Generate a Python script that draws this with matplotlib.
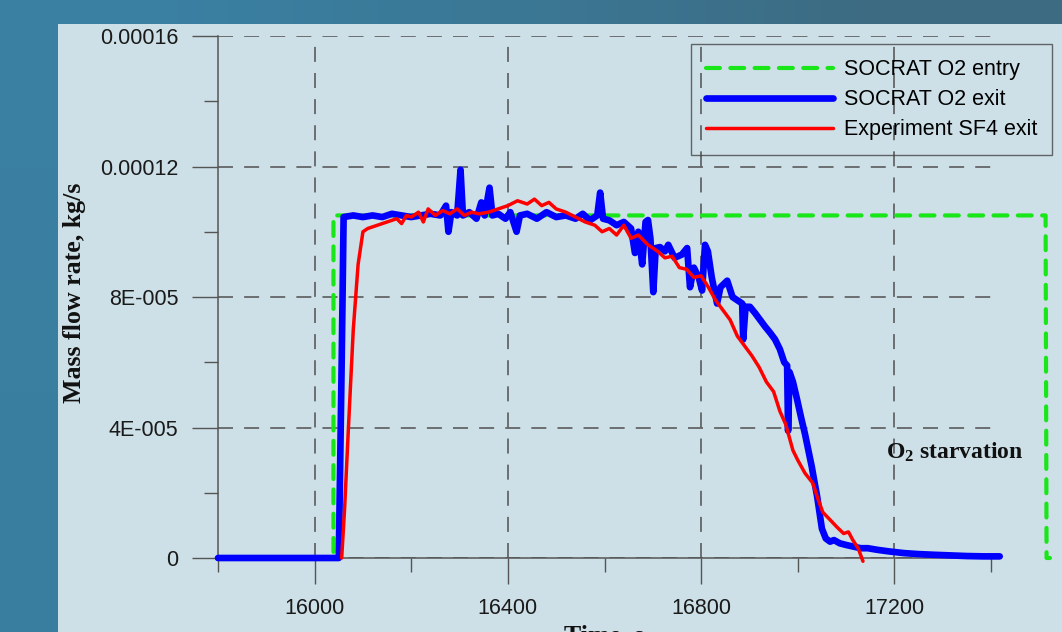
import numpy as np
import matplotlib as mpl
mpl.use("Agg")
import matplotlib.pyplot as plt
from matplotlib.ticker import MultipleLocator, FixedLocator, FixedFormatter
from matplotlib.patches import Rectangle

# values (mass flow in 1e-5 kg/s)
entry_t = [15800, 16039, 16039, 17513, 17515, 17522]
entry_q = [0.0, 0.0, 10.5, 10.5, 0.0, 0.0]

exit_t = [15800, 16050, 16056, 16060, 16080, 16100, 16120, 16140, 16160, 16180,
          16200, 16220, 16240, 16260, 16272, 16277, 16283, 16295, 16302, 16307,
          16320, 16335, 16345, 16352, 16362, 16368, 16380, 16395, 16405, 16418,
          16425, 16440, 16460, 16480, 16500, 16520, 16540, 16555, 16570, 16585,
          16591, 16597, 16610, 16625, 16640, 16655, 16663, 16670, 16678, 16685,
          16690, 16695, 16701, 16706, 16715, 16725, 16732, 16745, 16760, 16771,
          16777, 16785, 16795, 16802, 16808, 16814, 16822, 16833, 16840, 16854,
          16865, 16875, 16885, 16887, 16892, 16901, 16912, 16922, 16932, 16943,
          16953, 16963, 16972, 16978, 16980, 16983, 16990, 16998, 17007, 17015,
          17022, 17029, 17035, 17040, 17045, 17050, 17058, 17067, 17075, 17087,
          17100, 17115, 17130, 17145, 17165, 17190, 17220, 17250, 17280, 17315,
          17350, 17385, 17418]
exit_q = [0.0, 0.0, 6.0, 10.45, 10.5, 10.45, 10.5, 10.45, 10.55, 10.5,
          10.45, 10.5, 10.55, 10.5, 10.8, 10.0, 10.6, 10.5, 11.9, 10.5,
          10.6, 10.4, 10.9, 10.5, 11.35, 10.5, 10.55, 10.4, 10.6, 10.0,
          10.5, 10.55, 10.4, 10.6, 10.45, 10.5, 10.4, 10.55, 10.35, 10.5,
          11.2, 10.4, 10.35, 10.2, 10.3, 10.1, 9.35, 10.0, 9.0, 10.3,
          10.36, 9.8, 8.15, 9.5, 9.53, 9.4, 9.6, 9.2, 9.3, 9.5,
          8.3, 8.9, 8.6, 8.2, 9.6, 9.4, 8.6, 7.8, 8.3, 8.5,
          8.0, 7.9, 7.8, 6.7, 7.7, 7.7, 7.5, 7.3, 7.1, 6.9,
          6.7, 6.4, 6.0, 5.9, 3.9, 5.7, 5.4, 4.9, 4.3, 3.8,
          3.3, 2.8, 2.3, 1.9, 1.4, 0.9, 0.6, 0.5, 0.55, 0.45,
          0.4, 0.35, 0.3, 0.3, 0.25, 0.2, 0.15, 0.12, 0.1, 0.08,
          0.06, 0.05, 0.05]

exp_t = [16056, 16062, 16070, 16080, 16090, 16100, 16110, 16130, 16150, 16170,
         16180, 16190, 16200, 16215, 16225, 16235, 16250, 16265, 16280, 16295,
         16310, 16325, 16340, 16360, 16380, 16400, 16420, 16440, 16455, 16470,
         16485, 16500, 16520, 16540, 16560, 16580, 16595, 16610, 16625, 16640,
         16655, 16670, 16690, 16710, 16725, 16740, 16755, 16770, 16785, 16800,
         16815, 16830, 16845, 16860, 16875, 16890, 16905, 16920, 16935, 16950,
         16963, 16975, 16990, 17000, 17015, 17031, 17042, 17052, 17065, 17081,
         17095, 17105, 17114, 17125, 17135]
exp_q = [0.0, 1.5, 4.0, 7.0, 9.0, 10.0, 10.1, 10.2, 10.3, 10.4,
         10.25, 10.5, 10.45, 10.6, 10.3, 10.7, 10.5, 10.65, 10.55, 10.7,
         10.5, 10.6, 10.55, 10.6, 10.7, 10.8, 10.95, 10.85, 11.0, 10.8,
         10.9, 10.7, 10.6, 10.45, 10.3, 10.2, 10.0, 10.1, 9.9, 10.2,
         9.8, 9.9, 9.6, 9.4, 9.2, 9.25, 8.9, 8.85, 8.6, 8.65,
         8.3, 7.9, 7.6, 7.3, 6.8, 6.5, 6.2, 5.85, 5.4, 5.1,
         4.5, 4.1, 3.3, 3.0, 2.6, 2.3, 1.8, 1.4, 1.2, 0.95,
         0.75, 0.8, 0.55, 0.3, -0.1]

y_ticks = [0, 4e-5, 8e-5, 12e-5, 16e-5]
y_labels = ["0", "4E-005", "8E-005", "0.00012", "0.00016"]
series_names = ["SOCRAT O2 entry", "SOCRAT O2 exit", "Experiment SF4 exit"]

plt.rcParams["lines.scale_dashes"] = False
plt.rcParams["mathtext.fontset"] = "custom"
plt.rcParams["mathtext.rm"] = "Liberation Serif"
plt.rcParams["mathtext.bf"] = "Liberation Serif:bold"
sans = "Liberation Sans"
serif = "Liberation Serif"

W, H = 1062, 632
fig = plt.figure(figsize=(W / 100, H / 100), dpi=100)

# slide background
bg = fig.add_axes([0, 0, 1, 1], zorder=-10)
grad = np.array([[0.0, 0.5, 1.0], [0.1, 0.55, 1.0]])
cmap = mpl.colors.LinearSegmentedColormap.from_list("bg", ["#3a80a2", "#3b7794", "#3d6b82"])
bg.imshow(grad, cmap=cmap, aspect="auto", extent=[0, 1, 0, 1], interpolation="bilinear")
bg.set_xlim(0, 1)
bg.set_ylim(0, 1)
bg.axis("off")
fig.patches.append(Rectangle((58 / W, 0), 1 - 58 / W, 1 - 24 / H, transform=fig.transFigure,
                             facecolor="#cde0e7", edgecolor="none", zorder=-5))

ax = fig.add_axes([218 / W, 1 - 558 / H, (991 - 218) / W, (558 - 36) / H])
ax.set_facecolor("none")

ax.plot(entry_t, np.array(entry_q) * 1e-5, color="#19e619", lw=3.0,
        linestyle=(0, (10, 7.5)), dash_capstyle="round", clip_on=False,
        label=series_names[0], zorder=3)
ax.plot(exit_t, np.array(exit_q) * 1e-5, color="#0000ff", lw=4.8,
        solid_capstyle="round", solid_joinstyle="round", clip_on=False,
        label=series_names[1], zorder=4)
ax.plot(exp_t, np.array(exp_q) * 1e-5, color="#ff0000", lw=2.5,
        solid_capstyle="round", solid_joinstyle="round", clip_on=False,
        label=series_names[2], zorder=5)

ax.set_xlim(15800, 17400)
ax.set_ylim(0, 16e-5)
ax.xaxis.set_major_locator(MultipleLocator(400))
ax.xaxis.set_minor_locator(MultipleLocator(200))
ax.yaxis.set_major_locator(FixedLocator(y_ticks))
ax.yaxis.set_major_formatter(FixedFormatter(y_labels))
ax.yaxis.set_minor_locator(MultipleLocator(2e-5))

ax.grid(True, which="major", color="#505050", lw=1.1, linestyle=(0, (10.8, 8)))
ax.set_axisbelow(True)
for s in ["top", "right"]:
    ax.spines[s].set_visible(False)
for s in ["left", "bottom"]:
    ax.spines[s].set_color("#555555")
    ax.spines[s].set_linewidth(1.1)

ax.tick_params(which="major", direction="out", length=18.7, width=1.0, color="#555555",
               labelsize=15.5, labelcolor="#1a1a1a", pad=10)
ax.tick_params(which="minor", direction="out", length=10, width=1.0, color="#555555")
for lab in ax.get_xticklabels() + ax.get_yticklabels():
    lab.set_fontfamily(sans)

fig.text(75 / W, 1 - 293 / H, "Mass flow rate, kg/s", rotation=90, ha="center", va="center",
         fontsize=18.6, fontweight="bold", family=serif, color="#111111")
fig.text(604 / W, 1 - 624 / H, "Time, s", ha="center", va="top",
         fontsize=18.6, fontweight="bold", family=serif, color="#111111")

ax.text(17325, (558 - 452) / 130.5 * 4e-5, r"$\mathbf{O_2}$ starvation", ha="center", va="center",
        fontsize=17, fontweight="bold", family=serif, color="#111111")

leg = ax.legend(loc="upper right", bbox_to_anchor=(1052 / W, 1 - 44 / H),
                bbox_transform=fig.transFigure, borderaxespad=0, fancybox=False,
                handlelength=5.9, handletextpad=0.5, labelspacing=0.42,
                borderpad=0.7, prop={"family": sans, "size": 15.5})
leg.get_frame().set_facecolor("none")
leg.get_frame().set_edgecolor("#444444")
leg.get_frame().set_linewidth(1.0)

fig.savefig("out.png", dpi=100)
